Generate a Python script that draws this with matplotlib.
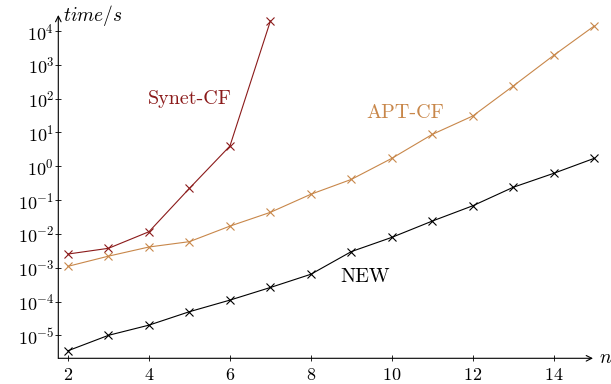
import matplotlib
matplotlib.use("Agg")
import matplotlib.pyplot as plt

plt.rcParams['mathtext.fontset'] = 'cm'
plt.rcParams['font.family'] = ['cmr10', 'DejaVu Serif']
plt.rcParams['axes.formatter.use_mathtext'] = True

# data (time in seconds)
n_new = [2, 3, 4, 5, 6, 7, 8, 9, 10, 11, 12, 13, 14, 15]
t_new = [3.5e-6, 1.0e-5, 2.0e-5, 5.0e-5, 1.1e-4, 2.6e-4, 6.4e-4,
         3.0e-3, 7.9e-3, 0.024, 0.068, 0.24, 0.62, 1.72]

n_apt = [2, 3, 4, 5, 6, 7, 8, 9, 10, 11, 12, 13, 14, 15]
t_apt = [1.1e-3, 2.2e-3, 4.1e-3, 5.9e-3, 0.017, 0.0435, 0.149,
         0.41, 1.72, 8.8, 30.8, 238, 1920, 14150]

n_synet = [2, 3, 4, 5, 6, 7]
t_synet = [2.54e-3, 3.75e-3, 0.0116, 0.223, 3.98, 19900]

red = '#8B1A1A'
orange = '#C8874A'

fig = plt.figure(figsize=(6.11, 3.84), dpi=100)
ax = fig.add_axes([58.3 / 611, 1 - 358.3 / 384, (593 - 58.3) / 611, (358.3 - 15) / 384])

ax.plot(n_new, t_new, color='black', lw=0.8, marker='x', ms=5.5, mew=0.8, clip_on=False)
ax.plot(n_apt, t_apt, color=orange, lw=0.8, marker='x', ms=5.5, mew=0.8, clip_on=False)
ax.plot(n_synet, t_synet, color=red, lw=0.8, marker='x', ms=5.5, mew=0.8, clip_on=False)

ax.set_yscale('log')
ax.set_xlim(1.76, 14.97)
ax.set_ylim(10 ** -5.68, 10 ** 4.476)
ax.set_xticks([2, 4, 6, 8, 10, 12, 14])
ax.set_yticks([10.0 ** k for k in range(-5, 5)])
ax.minorticks_off()
ax.tick_params(direction='inout', length=4, width=0.6, labelsize=13)
ax.tick_params(axis='x', pad=4)
ax.tick_params(axis='y', pad=1)

for s in ['top', 'right', 'left', 'bottom']:
    ax.spines[s].set_visible(False)

# axis lines with arrow heads
arrow = dict(arrowstyle='->', lw=0.8, color='black', shrinkA=0, shrinkB=0,
             mutation_scale=10)
ax.annotate('', xy=(1.0, 0), xytext=(0, 0), xycoords='axes fraction', arrowprops=arrow)
ax.annotate('', xy=(0, 1.0), xytext=(0, 0), xycoords='axes fraction', arrowprops=arrow)

ax.text(1.012, 0.0, r'$n$', transform=ax.transAxes, fontsize=14, va='center', ha='left')
ax.text(0.008, 1.0, r'$time/s$', transform=ax.transAxes, fontsize=14, va='center', ha='left')

ax.text(5.0, 10 ** 1.99, 'Synet-CF', color=red, fontsize=14.5, ha='center', va='center')
ax.text(10.34, 10 ** 1.57, 'APT-CF', color=orange, fontsize=14.5, ha='center', va='center')
ax.text(9.35, 10 ** -3.27, 'NEW', color='black', fontsize=14.5, ha='center', va='center')

fig.savefig('out.png', dpi=100)
